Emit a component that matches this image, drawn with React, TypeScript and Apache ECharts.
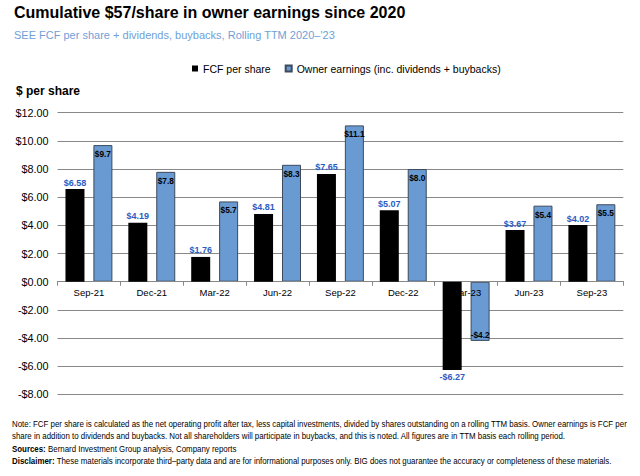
import React, { useEffect, useRef } from "react";
import * as echarts from "echarts";

const categories = ["Sep-21", "Dec-21", "Mar-22", "Jun-22", "Sep-22", "Dec-22", "Mar-23", "Jun-23", "Sep-23"];
const fcfPerShare = [6.58, 4.19, 1.76, 4.81, 7.65, 5.07, -6.27, 3.67, 4.02];
const ownerEarnings = [9.7, 7.8, 5.7, 8.3, 11.1, 8.0, -4.2, 5.4, 5.5];
const yMin = -8;
const yMax = 12;
const yStep = 2;

const titleText = "Cumulative $57/share in owner earnings since 2020";
const subtitleText = "SEE FCF per share + dividends, buybacks, Rolling TTM 2020\u2013'23";
const yAxisTitle = "$ per share";
const seriesNames = ["FCF per share", "Owner earnings (inc. dividends + buybacks)"];
const footerLines = [
  "Note: FCF per share is calculated as the net operating profit after tax, less capital investments, divided by shares outstanding on a rolling TTM basis. Owner earnings is FCF per",
  "share in addition to dividends and buybacks. Not all shareholders will participate in buybacks, and this is noted. All figures are in TTM basis each rolling period.",
  "{b|Sources:} Bernard Investment Group analysis, Company reports",
  "{b|Disclaimer:} These materials incorporate third\u2013party data and are for informational purposes only. BIG does not guarantee the accuracy or completeness of these materials.",
];

const FONT = "'Liberation Sans', Arial, Helvetica, sans-serif";
const money = (v: number, d: number) => (v < 0 ? "-$" : "$") + Math.abs(v).toFixed(d);

export default function App() {
  const ref = useRef<HTMLDivElement>(null);
  useEffect(() => {
    if (!ref.current) return;
    const chart = echarts.init(ref.current, null, { renderer: "svg" });
    const footerY = [424, 436, 449, 461];
    const gridTop = 112.7;
    const gridBottom = 81.6;
    const gridHeight = 476 - gridTop - gridBottom;
    const zeroOffset = -((0 - yMin) / (yMax - yMin)) * gridHeight;
    const option: any = {
      animation: false,
      backgroundColor: "#ffffff",
      textStyle: { fontFamily: FONT },
      grid: { left: 57.5, right: 16.7, top: gridTop, bottom: gridBottom, containLabel: false },
      legend: {
        left: 187,
        top: 58,
        itemWidth: 6,
        itemHeight: 6,
        itemGap: 14,
        icon: "rect",
        textStyle: { fontSize: 10.5, color: "#000", fontFamily: FONT },
        data: seriesNames,
      },
      xAxis: {
        type: "category",
        data: categories,
        z: 2,
        position: "bottom",
        offset: zeroOffset,
        axisLine: { onZero: false, lineStyle: { color: "#888888", width: 1.2 } },
        axisTick: { show: true, length: 4, lineStyle: { color: "#888888", width: 1 } },
        axisLabel: { fontSize: 9.5, color: "#000", margin: 6, fontFamily: FONT },
      },
      yAxis: {
        type: "value",
        min: yMin,
        max: yMax,
        interval: yStep,
        z: 0,
        axisLine: { show: false },
        axisTick: { show: false },
        splitLine: { lineStyle: { color: "#888888", width: 1.2 } },
        axisLabel: {
          fontSize: 10.8,
          color: "#000",
          margin: 9,
          fontFamily: FONT,
          formatter: (v: number) => money(v, 2),
        },
      },
      series: [
        {
          name: seriesNames[0],
          type: "bar",
          z: 3,
          barWidth: 19,
          barGap: "47%",
          itemStyle: { color: "#000000" },
          label: {
            show: true,
            fontSize: 9,
            fontWeight: "bold",
            color: "#2a5cc4",
            distance: 2,
            fontFamily: FONT,
            formatter: (p: any) => money(p.value, 2),
          },
          data: fcfPerShare.map((v) => ({ value: v, label: { position: v < 0 ? "bottom" : "top" } })),
        },
        {
          name: seriesNames[1],
          type: "bar",
          z: 1,
          barWidth: 19,
          itemStyle: { color: "#6a9ad2", borderColor: "#3c4a5c", borderWidth: 1 },
          label: {
            show: true,
            fontSize: 8.3,
            fontWeight: "bold",
            color: "#000",
            fontFamily: FONT,
            formatter: (p: any) => money(p.value, 1),
          },
          data: ownerEarnings.map((v) => ({
            value: v,
            label: v < 0 ? { position: "insideBottom", distance: 2 } : { position: "insideTop", distance: 5 },
          })),
        },
      ],
      graphic: [
        {
          type: "text",
          x: 14,
          y: 12,
          style: { text: titleText, font: `bold 16px ${FONT}`, fill: "#000", verticalAlign: "middle" },
        },
        {
          type: "text",
          x: 14,
          y: 35,
          style: { text: subtitleText, font: `11px ${FONT}`, fill: "#6f9fd8", verticalAlign: "middle" },
        },
        {
          type: "text",
          x: 16,
          y: 91,
          style: { text: yAxisTitle, font: `bold 12px ${FONT}`, fill: "#000", verticalAlign: "middle" },
        },
        ...footerLines.map((t, i) => ({
          type: "text",
          x: 12,
          y: footerY[i],
          scaleX: 0.93,
          style: {
            text: t,
            font: `8.5px ${FONT}`,
            fill: "#000",
            verticalAlign: "middle",
            rich: { b: { fontWeight: "bold", fontSize: 8.5, fontFamily: FONT, fill: "#000" } },
          },
        })),
      ],
    };
    chart.setOption(option);
    return () => chart.dispose();
  }, []);
  return <div ref={ref} style={{ position: "fixed", left: 0, top: 0, width: 640, height: 476 }} />;
}
